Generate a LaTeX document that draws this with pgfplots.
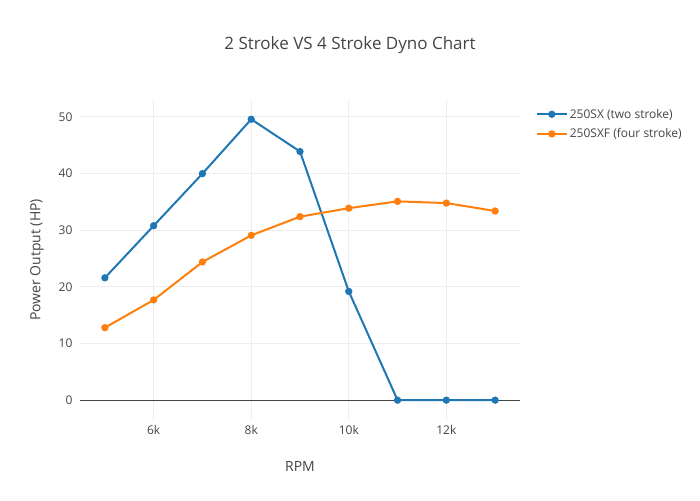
\documentclass[border=0pt]{standalone}
\usepackage{pgfplots}
\pgfplotsset{compat=1.18}
\usepackage{fontspec}
\setmainfont{Open Sans}
\definecolor{txt}{HTML}{444444}
\definecolor{grid}{HTML}{EEEEEE}
\definecolor{pblue}{HTML}{1F77B4}
\definecolor{porange}{HTML}{FF7F0E}
\begin{document}
\begin{tikzpicture}[x=1pt,y=1pt]
\useasboundingbox (0,0) rectangle (700,500);
\node[text=txt,font=\fontsize{17}{20}\selectfont] at (350,455) {2 Stroke VS 4 Stroke Dyno Chart};
\node[text=txt,font=\fontsize{14}{17}\selectfont] at (300,33) {RPM};
\node[text=txt,font=\fontsize{14}{17}\selectfont,rotate=90] at (37,240) {Power Output (HP)};
\begin{axis}[
  at={(80pt,80pt)}, anchor=south west,
  width=440pt, height=320pt, scale only axis,
  xmin=4490, xmax=13510, ymin=-3.5, ymax=53,
  axis line style={draw=none},
  scaled x ticks=false,
  xtick={6000,8000,10000,12000},
  xticklabels={6k,8k,10k,12k},
  ytick={0,10,20,30,40,50},
  major tick length=0pt,
  grid=major,
  major grid style={draw=grid,line width=1pt},
  tick label style={text=txt,font=\fontsize{12}{14}\selectfont},
  /pgf/number format/assume math mode=true,
  yticklabel style={xshift=-4pt},
  xticklabel style={yshift=-2pt},
  clip=false,
  legend style={at={(1.031,0.985)}, anchor=north west, draw=none, fill=none,
    font=\fontsize{12}{14}\selectfont, text=txt, row sep=5pt,
    inner sep=2pt},
  legend cell align=left,
  legend image code/.code={\draw[mark repeat=2,mark phase=2] plot coordinates {(0pt,0pt)(15pt,0pt)(30pt,0pt)};},
]
\draw[txt,line width=1pt] (axis cs:4490,0) -- (axis cs:13510,0);
\addplot[pblue,line width=2pt,mark=*,mark size=2.6pt,mark options={solid}] coordinates {
(5000,21.6) (6000,30.8) (7000,40.0) (8000,49.6) (9000,43.9) (10000,19.2) (11000,0) (12000,0) (13000,0)};
\addlegendentry{250SX (two stroke)}
\addplot[porange,line width=2pt,mark=*,mark size=2.6pt,mark options={solid}] coordinates {
(5000,12.8) (6000,17.7) (7000,24.4) (8000,29.1) (9000,32.4) (10000,33.9) (11000,35.1) (12000,34.8) (13000,33.4)};
\addlegendentry{250SXF (four stroke)}
\end{axis}
\end{tikzpicture}
\end{document}
